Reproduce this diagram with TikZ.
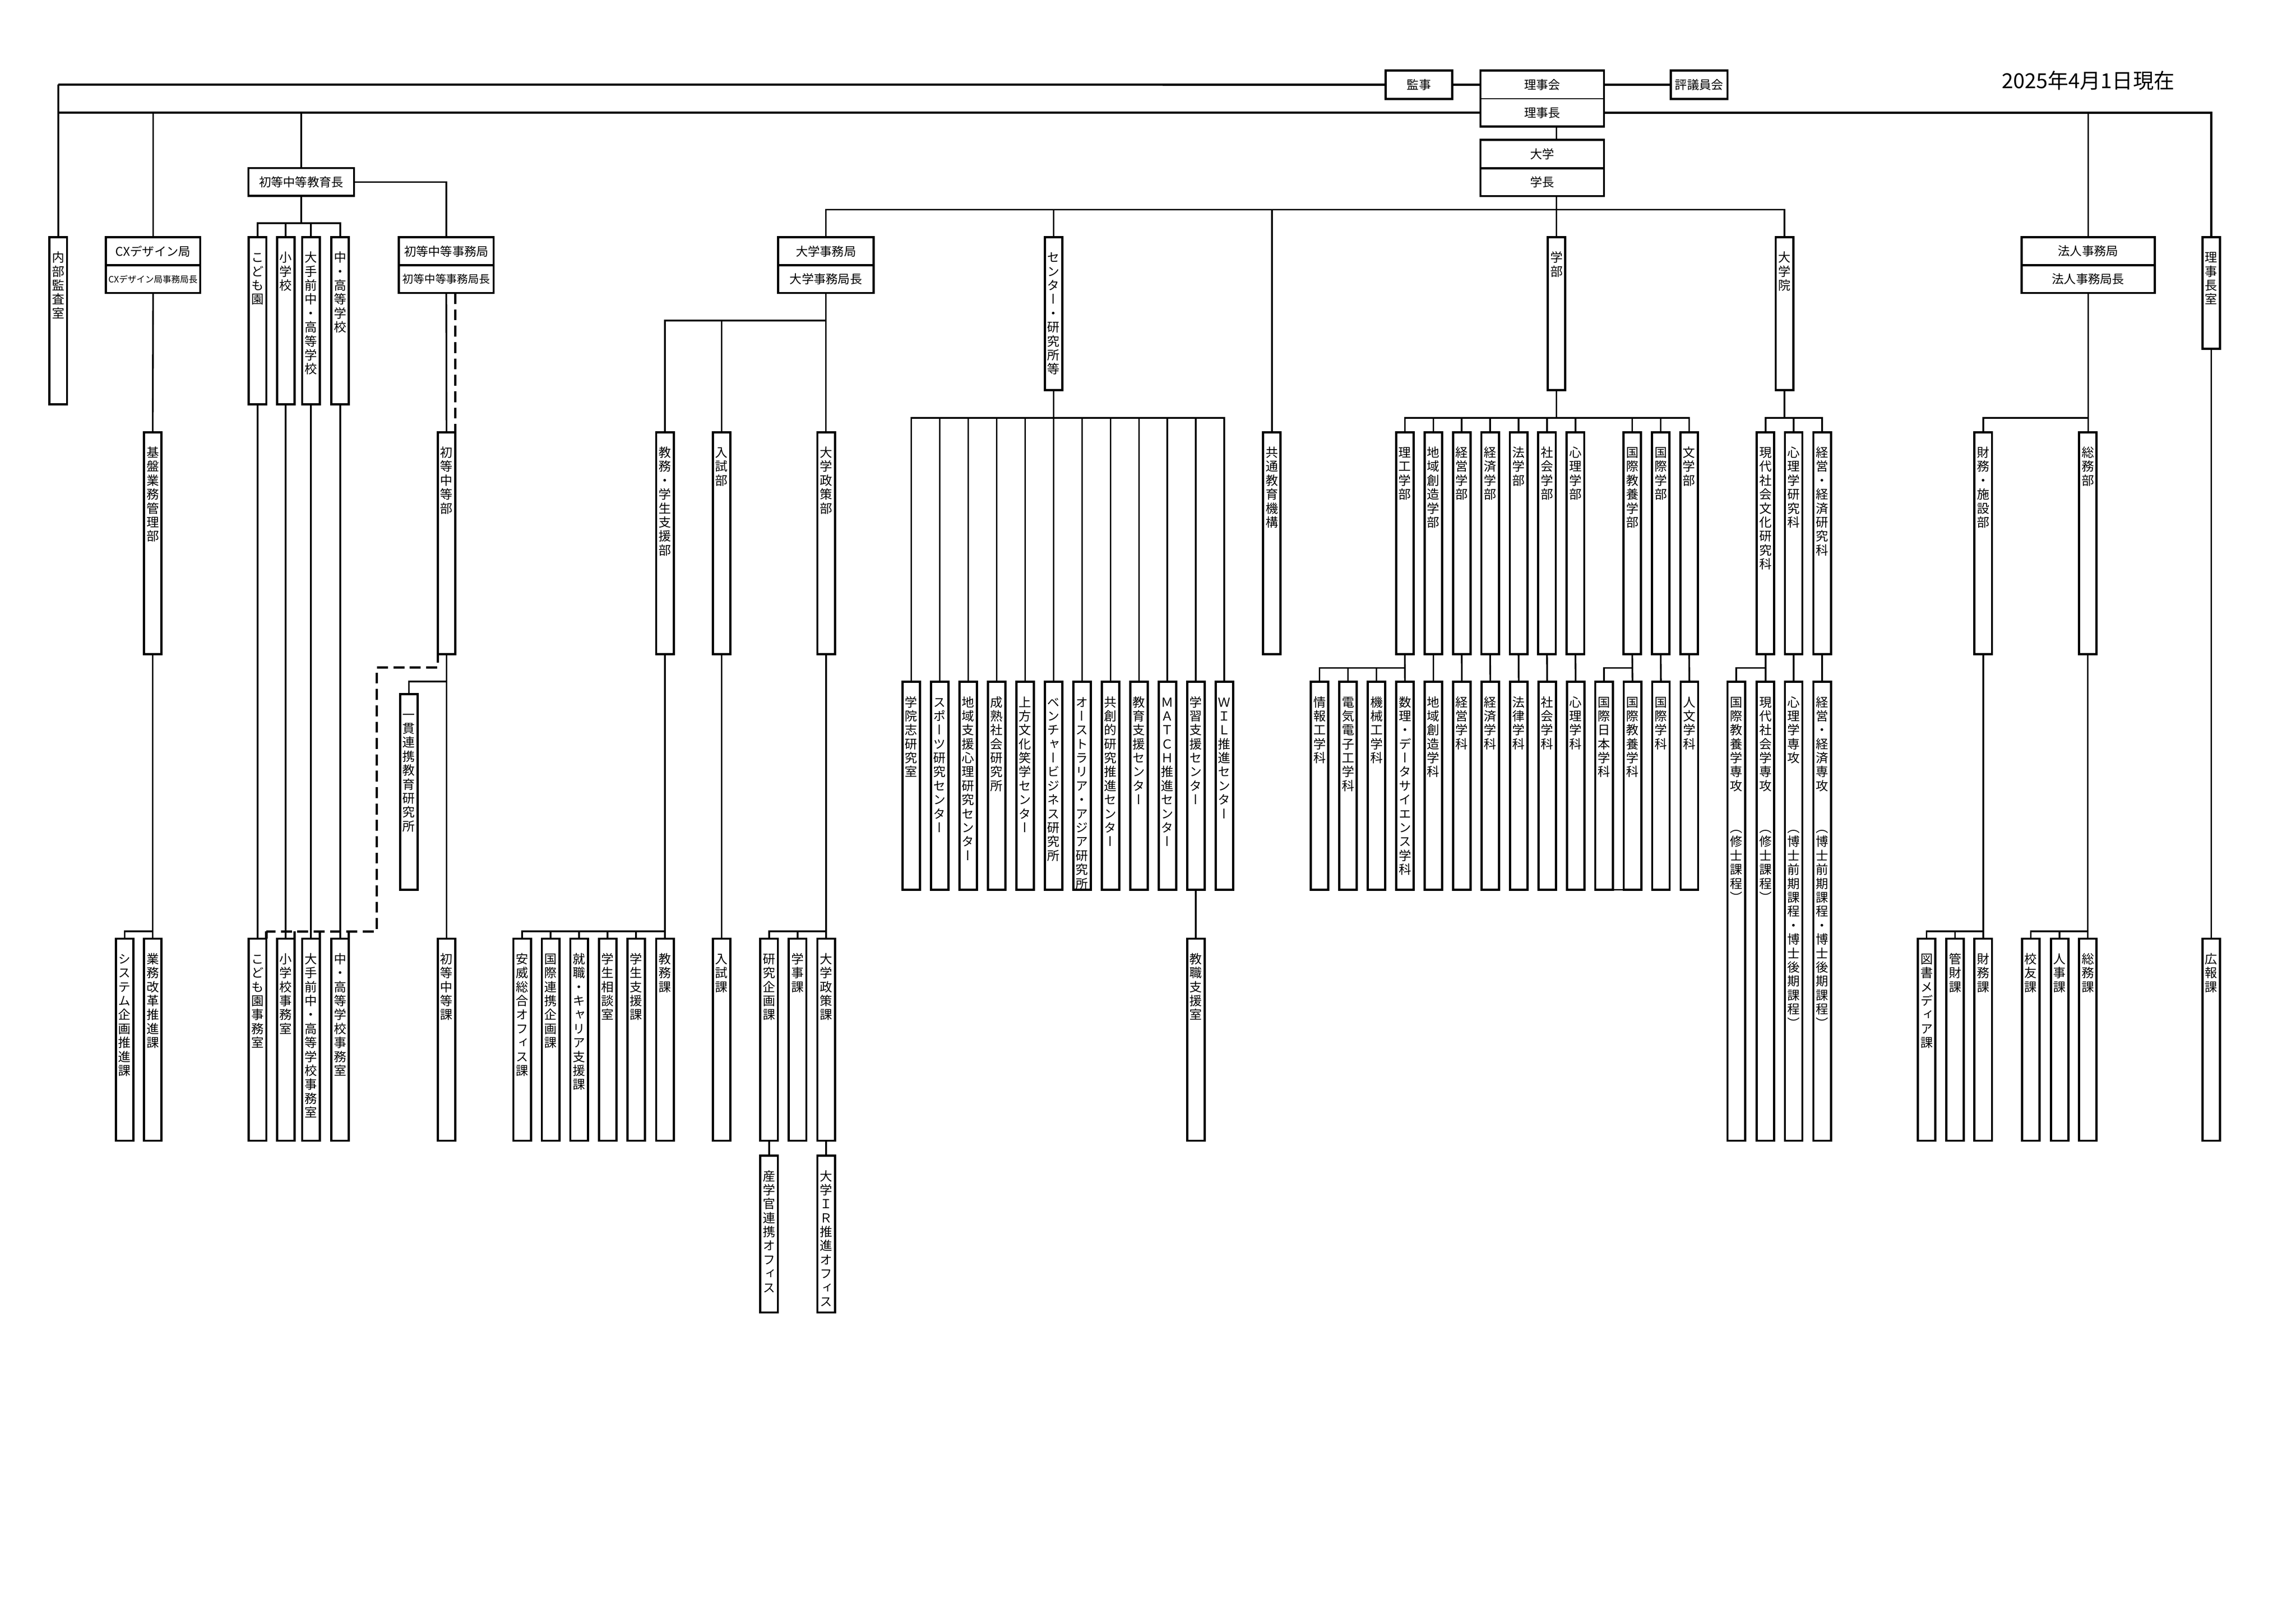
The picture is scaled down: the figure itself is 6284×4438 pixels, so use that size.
\documentclass[tikz,border=0pt]{standalone}
\usepackage{fontspec}
\setmainfont{Noto Sans CJK JP}
\newfontfamily\vfont[RawFeature=+vert]{Noto Sans CJK JP}
\newdimen\pxu \pxu=0.13399pt
\pgfdeclarelayer{paper}
\pgfdeclarelayer{lines}
\pgfsetlayers{paper,lines,main}
\makeatletter
\newcommand\vtgap{}
\newcommand\vtext[1]{\vbox{\vfont\fontsize{4.556pt}{5.118pt}\selectfont
  \baselineskip=5.118pt\lineskiplimit=-100pt\lineskip=0pt
  \@tfor\vt@c:=#1\do{\hbox to 6.43pt{\hss\vrule height 3.92pt depth 0pt width 0pt\vt@c\hss}}}}
\makeatother
\newcommand\VB[2]{\vbox to #1\pxu{\vskip 39\pxu\hbox to 48\pxu{\hss\vtext{#2}\hss}\vss}}
\newcommand\vnode[5]{\node[vbx] (#1) at (#2,#3) {\VB{#4}{#5}};}
\newcommand\hfs{\fontsize{4.42pt}{5pt}\selectfont}
\newcommand\cxfs{\fontsize{3.2pt}{4pt}\selectfont}
\newcommand\sjfs{\fontsize{4.0pt}{5pt}\selectfont}
\tikzset{
  vbx/.style={draw, line width=6*\pxu, fill=white, inner sep=0pt, outer sep=0pt, anchor=north},
  hbx/.style={draw, line width=6*\pxu, fill=white, inner sep=0pt, outer sep=0pt, anchor=north west, font=\hfs},
  hbxn/.style={hbx, draw=none},
  conn/.style={line width=4.5*\pxu},
  mainln/.style={line width=6*\pxu},
  dsh/.style={line width=6.5*\pxu, dash pattern=on 4pt off 2pt},
  tickln/.style={line width=6.5*\pxu}
}
\begin{document}
\begin{tikzpicture}[x=0.13399pt, y=-0.13399pt]
\begin{pgfonlayer}{paper}
\fill[white] (0,0) rectangle (6284,4438);
\end{pgfonlayer}
\useasboundingbox (0,0) rectangle (6284,4438);

% ---------- top level horizontal boxes
\node[hbx, minimum width=183*\pxu, minimum height=77.5*\pxu] (kanji) at (3792,193) {監事};
\node[hbxn, minimum width=338*\pxu, minimum height=77.5*\pxu] (rijikai) at (4052,193) {理事会};
\node[hbxn, minimum width=338*\pxu, minimum height=75.5*\pxu] (rijicho) at (4052,270.5) {理事長};
\draw[line width=6*\pxu] (rijikai.north west) rectangle (rijicho.south east);
\draw[line width=2*\pxu] (rijikai.south west) -- (rijikai.south east);
\node[hbx, minimum width=155*\pxu, minimum height=77.5*\pxu] (hyogi) at (4573,193) {評議員会};
\node[hbx, minimum width=338*\pxu, minimum height=77.6*\pxu] (daigaku) at (4052,383) {大学};
\node[hbx, minimum width=338*\pxu, minimum height=76*\pxu] (gakucho) at (4052,460.6) {学長};
\node[hbx, minimum width=289*\pxu, minimum height=76.5*\pxu] (shotochuto) at (680,460) {初等中等教育長};
\node[hbx, minimum width=258*\pxu, minimum height=77*\pxu] (cx) at (290,649) {CXデザイン局};
\node[hbx, minimum width=258*\pxu, minimum height=76*\pxu, font=\cxfs] (cxchief) at (290,726) {CXデザイン局事務局長};
\node[hbx, minimum width=259*\pxu, minimum height=77*\pxu] (shojim) at (1092,649) {初等中等事務局};
\node[hbx, minimum width=259*\pxu, minimum height=76*\pxu, font=\sjfs] (shojimchief) at (1092,726) {初等中等事務局長};
\node[hbx, minimum width=261*\pxu, minimum height=77*\pxu] (daijim) at (2130,649) {大学事務局};
\node[hbx, minimum width=261*\pxu, minimum height=76*\pxu] (daijimchief) at (2130,726) {大学事務局長};
\node[hbx, minimum width=364*\pxu, minimum height=77*\pxu] (hojin) at (5533,649) {法人事務局};
\node[hbx, minimum width=364*\pxu, minimum height=76*\pxu] (hojinchief) at (5533,726) {法人事務局長};
\node (date) at (5715,220) {\fontsize{7.6pt}{9pt}\selectfont 2025年4月1日現在};

% ---------- level 1 vertical boxes
\vnode{naibu}{159.5}{649}{458}{内部監査室}
\vnode{kodomo}{705}{649}{458}{こども園}
\vnode{shogak}{782}{649}{458}{小学校}
\vnode{otemae}{851}{649}{458}{大手前中・高等学校}
\vnode{chuko}{931}{649}{458}{中・高等学校}
\vnode{rijichoshitsu}{6052}{649}{306}{理事長室}
\vnode{center}{2883.5}{649}{419}{センター・研究所等}
\vnode{gakubu}{4260}{649}{419}{学部}
\vnode{daigakuin}{4884}{649}{419}{大学院}

% ---------- level 2
\vnode{kiban}{418}{1183}{607}{基盤業務管理部}
\vnode{shotobu}{1222}{1183}{607}{初等中等部}
\vnode{kyomubu}{1820}{1183}{607}{教務・学生支援部}
\vnode{nyushibu}{1975}{1183}{607}{入試部}
\vnode{seisakubu}{2261}{1183}{607}{大学政策部}
\vnode{kyotsu}{3481}{1183}{607}{共通教育機構}
\vnode{rikou}{3845}{1183}{607}{理工学部}
\vnode{chiiki}{3923}{1183}{607}{地域創造学部}
\vnode{keiei}{4000.6}{1183}{607}{経営学部}
\vnode{keizai}{4078.4}{1183}{607}{経済学部}
\vnode{hou}{4156.2}{1183}{607}{法学部}
\vnode{shakai}{4234}{1183}{607}{社会学部}
\vnode{shinri}{4311.8}{1183}{607}{心理学部}
\vnode{kokukyo}{4467.4}{1183}{607}{国際教養学部}
\vnode{kokusai}{4545.2}{1183}{607}{国際学部}
\vnode{bun}{4623}{1183}{607}{文学部}
\vnode{gen}{4832}{1183}{607}{現代社会文化研究科}
\vnode{shinriken}{4909}{1183}{607}{心理学研究科}
\vnode{keieiken}{4987}{1183}{607}{経営・経済研究科}
\vnode{zaimubu}{5428}{1183}{607}{財務・施設部}
\vnode{somubu}{5714}{1183}{607}{総務部}

% ---------- centers
\vnode{c1}{2494}{1866}{569}{学院志研究室}
\vnode{c2}{2571.9}{1866}{569}{スポーツ研究センター}
\vnode{c3}{2649.8}{1866}{569}{地域支援心理研究センター}
\vnode{c4}{2727.7}{1866}{569}{成熟社会研究所}
\vnode{c5}{2805.6}{1866}{569}{上方文化笑学センター}
\vnode{c6}{2883.5}{1866}{569}{ベンチャービジネス研究所}
\vnode{c7}{2961.4}{1866}{569}{オーストラリア・アジア研究所}
\vnode{c8}{3039.3}{1866}{569}{共創的研究推進センター}
\vnode{c9}{3117.2}{1866}{569}{教育支援センター}
\vnode{c10}{3195.1}{1866}{569}{ＭＡＴＣＨ推進センター}
\vnode{c11}{3273}{1866}{569}{学習支援センター}
\vnode{c12}{3350.9}{1866}{569}{ＷＩＬ推進センター}

% ---------- departments
\vnode{d1}{3611.6}{1866}{569}{情報工学科}
\vnode{d2}{3689.5}{1866}{569}{電気電子工学科}
\vnode{d3}{3767.3}{1866}{569}{機械工学科}
\vnode{d4}{3845.2}{1866}{569}{数理・データサイエンス学科}
\vnode{d5}{3923}{1866}{569}{地域創造学科}
\vnode{d6}{4000.9}{1866}{569}{経営学科}
\vnode{d7}{4078.7}{1866}{569}{経済学科}
\vnode{d8}{4156.6}{1866}{569}{法律学科}
\vnode{d9}{4234.4}{1866}{569}{社会学科}
\vnode{d10}{4312.3}{1866}{569}{心理学科}
\vnode{d11}{4390.1}{1866}{569}{国際日本学科}
\vnode{d12}{4468}{1866}{569}{国際教養学科}
\vnode{d13}{4545.8}{1866}{569}{国際学科}
\vnode{d14}{4623.7}{1866}{569}{人文学科}

\vnode{ikkan}{1119}{1900}{535}{一貫連携教育研究所}

% ---------- graduate majors
\vnode{m1}{4752}{1866}{1256}{国際教養学専攻\vtgap\vtgap（修士課程）}
\vnode{m2}{4832}{1866}{1256}{現代社会学専攻\vtgap\vtgap（修士課程）}
\vnode{m3}{4909}{1866}{1256}{心理学専攻\vtgap\vtgap\vtgap\vtgap（博士前期課程・博士後期課程）}
\vnode{m4}{4987}{1866}{1256}{経営・経済専攻\vtgap\vtgap（博士前期課程・博士後期課程）}

% ---------- level 4
\vnode{system}{341}{2569}{553}{システム企画推進課}
\vnode{gyomu}{418}{2569}{553}{業務改革推進課}
\vnode{kodomoOff}{705}{2569}{553}{こども園事務室}
\vnode{shogakOff}{782}{2569}{553}{小学校事務室}
\vnode{otemaeOff}{851}{2569}{553}{大手前中・高等学校事務室}
\vnode{chukoOff}{931}{2569}{553}{中・高等学校事務室}
\vnode{shotoka}{1222}{2569}{553}{初等中等課}
\vnode{ai}{1429}{2569}{553}{安威総合オフィス課}
\vnode{kokuren}{1507}{2569}{553}{国際連携企画課}
\vnode{shushoku}{1585}{2569}{553}{就職・キャリア支援課}
\vnode{soudan}{1663}{2569}{553}{学生相談室}
\vnode{gakusei}{1741}{2569}{553}{学生支援課}
\vnode{kyomuka}{1820}{2569}{553}{教務課}
\vnode{nyushika}{1975}{2569}{553}{入試課}
\vnode{kenkyu}{2105}{2569}{553}{研究企画課}
\vnode{gakuji}{2183}{2569}{553}{学事課}
\vnode{seisakuka}{2261}{2569}{553}{大学政策課}
\vnode{kyoshoku}{3273}{2569}{553}{教職支援室}
\vnode{tosho}{5273}{2569}{553}{図書メディア課}
\vnode{kanzai}{5351}{2569}{553}{管財課}
\vnode{zaimuka}{5428}{2569}{553}{財務課}
\vnode{koyu}{5558}{2569}{553}{校友課}
\vnode{jinji}{5637}{2569}{553}{人事課}
\vnode{somuka}{5714}{2569}{553}{総務課}
\vnode{koho}{6052}{2569}{553}{広報課}

% ---------- level 5
\vnode{sangaku}{2105}{3163}{429}{産学官連携オフィス}
\vnode{ir}{2261}{3163}{429}{大学ＩＲ推進オフィス}

% ---------- connectors
\coordinate (tl1) at (159.5,231.7);
\coordinate (tl2) at (159.5,308.2);
\coordinate (ubar) at (4260,573.5);
\coordinate (sbar) at (824.5,611);
\coordinate (kbar) at (418,2549);
\coordinate (ikbar) at (1222,1865);
\coordinate (dd1) at (1031,1827);
\coordinate (dd2) at (1031,2549);
\coordinate (djbar) at (2261,877);
\coordinate (kybar) at (1820,2549);
\coordinate (scbar) at (2261,2549);
\coordinate (cbar) at (2883.5,1144);
\coordinate (gbar) at (4260,1144);
\coordinate (rbar) at (3845,1828);
\coordinate (kkbar) at (4467.4,1828);
\coordinate (dgbar) at (4884,1144);
\coordinate (genbar) at (4832,1828);
\coordinate (hbar) at (5714,1144);
\coordinate (zbar) at (5428,2549);
\coordinate (smbar) at (5714,2549);

\begin{pgfonlayer}{lines}
% top lines
\draw[conn] (naibu.north) -- (tl1);
\draw[mainln] (tl1) -- (kanji.west);
\draw[mainln] (kanji.east) -- (rijikai.west);
\draw[mainln] (rijikai.east) -- (hyogi.west);
\draw[mainln] (tl2) -- (rijicho.west);
\draw[mainln] (rijicho.east) -- (rijicho.east -| rijichoshitsu.north) -- (rijichoshitsu.north);
\draw[conn] (cx.north) -- (cx.north |- tl2);
\draw[conn] (shotochuto.north) -- (shotochuto.north |- tl2);
\draw[conn] (hojin.north) -- (hojin.north |- tl2);
% university
\draw[conn] (rijicho.south -| gakubu.north) -- (daigaku.north -| gakubu.north);
\draw[conn] (gakucho.south -| ubar) -- (ubar);
\foreach \n in {daijim, center, kyotsu, gakubu, daigakuin} \draw[conn] (\n.north) |- (ubar);
% CX
\draw[conn] (cxchief.south) -- (kiban.north);
\draw[conn] (kiban.south) -- (gyomu.north);
\draw[conn] (system.north) |- (kbar);
% primary/secondary
\draw[conn] (shotochuto.south) -- (sbar);
\foreach \n in {kodomo, shogak, otemae, chuko} \draw[conn] (\n.north) |- (sbar);
\draw[conn] (shotochuto.east) -| (shojim.north);
\draw[conn] (kodomo.south) -- (kodomoOff.north);
\draw[conn] (shogak.south) -- (shogakOff.north);
\draw[conn] (otemae.south) -- (otemaeOff.north);
\draw[conn] (chuko.south) -- (chukoOff.north);
\draw[conn] (shojimchief.south) -- (shotobu.north);
\draw[conn] (shotobu.south) -- (shotoka.north);
\draw[conn] (ikkan.north) |- (ikbar);
\draw[dsh] (shojimchief.south -| shotobu.north east) -- (shotobu.south east) -- (shotobu.south west) -- (shotobu.south west |- dd1) -- (dd1) -- (dd2) -- (dd2 -| kodomoOff.north east);
\foreach \n in {kodomoOff, shogakOff, otemaeOff, chukoOff} \draw[tickln] (\n.north east) -- (\n.north east |- dd2);
% university office
\draw[conn] (daijimchief.south) -- (daijimchief.south |- seisakubu.north);
\foreach \n in {kyomubu, nyushibu} \draw[conn] (\n.north) |- (djbar);
\draw[conn] (kyomubu.south) -- (kyomuka.north);
\foreach \n in {ai, kokuren, shushoku, soudan, gakusei} \draw[conn] (\n.north) |- (kybar);
\draw[conn] (nyushibu.south) -- (nyushika.north);
\draw[conn] (seisakubu.south) -- (seisakuka.north);
\foreach \n in {kenkyu, gakuji} \draw[conn] (\n.north) |- (scbar);
\draw[conn] (kenkyu.south) -- (sangaku.north);
\draw[conn] (seisakuka.south) -- (ir.north);
% centers
\draw[conn] (center.south) -- (cbar);
\foreach \n in {c1,c2,c3,c4,c5,c6,c7,c8,c9,c10,c11,c12} \draw[conn] (\n.north) |- (cbar);
\draw[conn] (c11.south) -- (kyoshoku.north);
% faculties
\draw[conn] (gakubu.south) -- (gbar);
\foreach \n in {rikou, chiiki, keiei, keizai, hou, shakai, shinri, kokukyo, kokusai, bun} \draw[conn] (\n.north) |- (gbar);
\draw[conn] (rikou.south) -- (d4.north);
\foreach \n in {d1, d2, d3} \draw[conn] (\n.north) |- (rbar);
\draw[conn] (chiiki.south) -- (d5.north);
\draw[conn] (keiei.south) -- (d6.north);
\draw[conn] (keizai.south) -- (d7.north);
\draw[conn] (hou.south) -- (d8.north);
\draw[conn] (shakai.south) -- (d9.north);
\draw[conn] (shinri.south) -- (d10.north);
\draw[conn] (kokukyo.south) -- (d12.north);
\draw[conn] (d11.north) |- (kkbar);
\draw[conn] (kokusai.south) -- (d13.north);
\draw[conn] (bun.south) -- (d14.north);
\draw[conn] (d11.south east) -- (d12.south west);
% graduate school
\draw[conn] (daigakuin.south) -- (dgbar);
\foreach \n in {gen, shinriken, keieiken} \draw[conn] (\n.north) |- (dgbar);
\draw[conn] (gen.south) -- (m2.north);
\draw[conn] (m1.north) |- (genbar);
\draw[conn] (shinriken.south) -- (m3.north);
\draw[conn] (keieiken.south) -- (m4.north);
% corporate office
\draw[conn] (hojinchief.south) -- (hojinchief.south |- somubu.north);
\draw[conn] (zaimubu.north) |- (hbar);
\draw[conn] (zaimubu.south) -- (zaimuka.north);
\foreach \n in {tosho, kanzai} \draw[conn] (\n.north) |- (zbar);
\draw[conn] (somubu.south) -- (somuka.north);
\foreach \n in {koyu, jinji} \draw[conn] (\n.north) |- (smbar);
\draw[conn] (rijichoshitsu.south) -- (koho.north);
\end{pgfonlayer}
\end{tikzpicture}
\end{document}
